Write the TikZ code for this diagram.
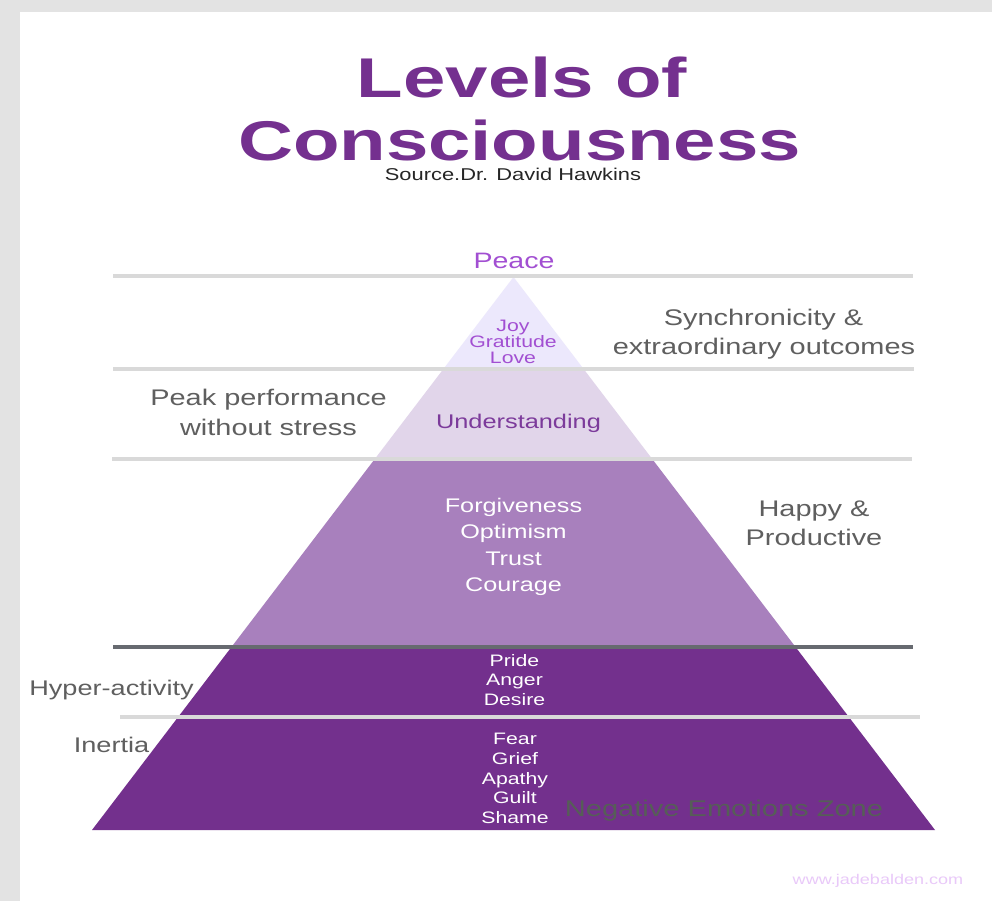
\documentclass[tikz,border=0pt]{standalone}
\usepackage{fontspec}
\setmainfont{Liberation Sans}[FakeStretch=1.28]
\newfontfamily\titlefont{Liberation Sans}[FakeStretch=1.36]
\usetikzlibrary{calc}
\definecolor{bordergray}{HTML}{E3E3E3}
\definecolor{titlepurple}{HTML}{74308F}
\definecolor{peacepurple}{HTML}{A24FD2}
\definecolor{understandpurple}{HTML}{7C3B9B}
\definecolor{sidegray}{HTML}{5F5F5F}
\definecolor{zonegray}{HTML}{565E57}
\definecolor{weblav}{HTML}{E9C9F9}
\definecolor{lineLight}{HTML}{D9D9D9}
\definecolor{lineDark}{HTML}{676A70}
\definecolor{bandA}{HTML}{ECE8FC}
\definecolor{bandB}{HTML}{E1D5EA}
\definecolor{bandC}{HTML}{A880BD}
\definecolor{bandD}{HTML}{73308D}
\begin{document}
\begin{tikzpicture}[x=1pt,y=-1pt,
  lbl/.style={anchor=base, inner sep=0pt, outer sep=0pt},
  sidetext/.style={lbl, text=sidegray, font=\fontsize{22.6}{26}\selectfont},
  midwhite/.style={lbl, text=white, font=\fontsize{19.7}{23}\selectfont},
  lowwhite/.style={lbl, text=white, font=\fontsize{16.6}{19}\selectfont},
  toptext/.style={lbl, text=peacepurple, font=\fontsize{16.6}{19}\selectfont},
  titletext/.style={lbl, text=titlepurple, text depth=0pt, font=\titlefont\bfseries\fontsize{56}{60}\selectfont},
  lightline/.style={draw=lineLight, line width=4.5pt},
  darkline/.style={draw=lineDark, line width=4.5pt}]
\useasboundingbox (0,0) rectangle (992,901);
\fill[bordergray] (0,0) rectangle (992,901);
\fill[white] (20,12) rectangle (992,901);

% pyramid
\coordinate (apex) at (513.5,277);
\coordinate (bl) at (92,830);
\coordinate (br) at (935,830);
\coordinate (l1) at ($(apex)!0.16637!(bl)$);
\coordinate (r1) at ($(apex)!0.16637!(br)$);
\coordinate (l2) at ($(apex)!0.32911!(bl)$);
\coordinate (r2) at ($(apex)!0.32911!(br)$);
\coordinate (l3) at ($(apex)!0.66908!(bl)$);
\coordinate (r3) at ($(apex)!0.66908!(br)$);
\fill[bandA] (apex) -- (r1) -- (l1) -- cycle;
\fill[bandB] (l1) -- (r1) -- (r2) -- (l2) -- cycle;
\fill[bandC] (l2) -- (r2) -- (r3) -- (l3) -- cycle;
\fill[bandD] (l3) -- (r3) -- (br) -- (bl) -- cycle;

% horizontal lines
\draw[lightline] (113,276) -- (913,276);
\draw[lightline] (113,369) -- (914,369);
\draw[lightline] (112,459) -- (912,459);
\draw[darkline] (113,647) -- (913,647);
\draw[lightline] (120,717) -- (920,717);

% title
\node[titletext] (t1) at (522,97.5) {Levels of};
\node[titletext] (t2) at (519.5,161) {Consciousness};
\node[lbl, text=black!85, text height=12pt, font=\fontsize{17.1}{20}\selectfont] (src) at (513,181) {Source.Dr. David Hawkins};

% top
\node[lbl, text=peacepurple, font=\fontsize{22.3}{26}\selectfont] (peace) at (514,268.5) {Peace};
\node[toptext] (joy) at (513,331.5) {Joy};
\node[toptext] (grat) at (513,347.5) {Gratitude};
\node[toptext] (love) at (513,363) {Love};
\node[sidetext] (sync) at (763.5,325) {Synchronicity \&};
\node[sidetext] (extra) at (764,354.5) {extraordinary outcomes};

% second band
\node[sidetext] (peak) at (268.5,405.5) {Peak performance};
\node[sidetext] (nostress) at (268.5,435) {without stress};
\node[lbl, text=understandpurple, font=\fontsize{19.8}{23}\selectfont] (und) at (518.5,428) {Understanding};

% third band
\node[midwhite] (forg) at (513.5,512) {Forgiveness};
\node[midwhite] (opt) at (513.5,538.5) {Optimism};
\node[midwhite] (trust) at (513.5,565) {Trust};
\node[midwhite] (cour) at (513.5,591.5) {Courage};
\node[sidetext] (happy) at (814,516) {Happy \&};
\node[sidetext] (prod) at (814,545) {Productive};

% bottom band
\node[lbl, text=sidegray, font=\fontsize{21.2}{25}\selectfont] (hyper) at (111.5,695) {Hyper-activity};
\node[lbl, text=sidegray, font=\fontsize{21.2}{25}\selectfont] (inertia) at (111.5,752.5) {Inertia};
\node[lowwhite] (pride) at (514.5,666) {Pride};
\node[lowwhite] (anger) at (514.5,685.5) {Anger};
\node[lowwhite] (desire) at (514.5,705) {Desire};
\node[lowwhite] (fear) at (515,744.3) {Fear};
\node[lowwhite] (grief) at (515,764) {Grief};
\node[lowwhite] (apathy) at (515,784) {Apathy};
\node[lowwhite] (guilt) at (515,803.5) {Guilt};
\node[lowwhite] (shame) at (515,823.3) {Shame};
\node[lbl, text=zonegray, font=\fontsize{22.7}{26}\selectfont] (zone) at (724,816.7) {Negative Emotions Zone};

% website
\node[lbl, text=weblav, font=\fontsize{14.1}{17}\selectfont] (web) at (878,884.3) {www.jadebalden.com};
\end{tikzpicture}
\end{document}
